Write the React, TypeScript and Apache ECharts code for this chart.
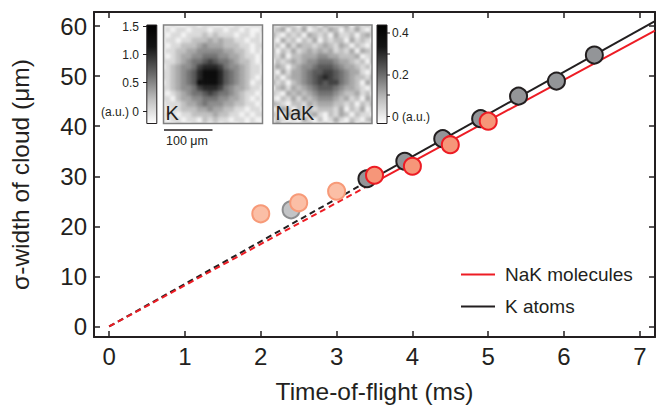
import React, { useEffect, useRef } from "react";
import * as echarts from "echarts";

const INK = "#231f20";
const FONT = "'Liberation Sans', Arial, sans-serif";

const kTimes = [2.4, 3.4, 3.9, 4.4, 4.9, 5.4, 5.9, 6.4];
const kWidths = [23.3, 29.5, 33, 37.5, 41.5, 46, 49, 54.2];
const nakTimes = [2, 2.5, 3, 3.5, 4, 4.5, 5];
const nakWidths = [22.5, 24.7, 27, 30.2, 32, 36.3, 41];
const kFadedCount = 1;
const nakFadedCount = 3;

const kFitDashed = [[0, 0], [3.4, 28.9]];
const kFitSolid = [[3.4, 28.9], [7.2, 61]];
const nakFitDashed = [[0, 0], [3.5, 28.8]];
const nakFitSolid = [[3.5, 28.8], [7.2, 59.1]];

const xTicks = [0, 1, 2, 3, 4, 5, 6, 7];
const yTicks = [0, 10, 20, 30, 40, 50, 60];

const kImage = [
  "10100110110010110110",
  "01011011101101101001",
  "10110111212111011010",
  "01101122232322110110",
  "10112223433322211011",
  "01122334444433221010",
  "10123344555443321101",
  "11123455676554322101",
  "01234457888754432110",
  "11234568999865432110",
  "11234568999865432101",
  "01234569999865432011",
  "11234457888754332110",
  "10123455676554321101",
  "11023344555443321010",
  "01112334544433221101",
  "10112223343322110110",
  "01101122223221101011",
  "10110110212110110100",
  "01011011101011010110",
];
const nakImage = [
  "20131021203112302120",
  "12302130121320213102",
  "31021203212031120231",
  "20312021302122031210",
  "12031322123213202102",
  "30213123232312130321",
  "21302233344332223012",
  "02123234455543321203",
  "13202344566654332120",
  "20313345667765433102",
  "12023345678765432213",
  "31202345676775432031",
  "02313234566654332102",
  "21032323455543223120",
  "10213132344432312031",
  "32102213233322120213",
  "01320212122213021302",
  "21031302310213202110",
  "02101031020131021023",
  "13020102102010130201",
];

const leftBarLabels = [
  { text: "1.5", y: 27 },
  { text: "1.0", y: 55 },
  { text: "0.5", y: 83 },
  { text: "(a.u.) 0", y: 112 },
];
const rightBarLabels = [
  { text: "0.4", y: 33 },
  { text: "0.2", y: 75 },
  { text: "0 (a.u.)", y: 116.5 },
];
const rightBarMinorTicks = [54, 95];

function Inset({ rows, left, top, size }: { rows: string[]; left: number; top: number; size: number }) {
  const ref = useRef<HTMLDivElement>(null);
  useEffect(() => {
    const chart = echarts.init(ref.current!, null, { renderer: "svg" });
    const idx = rows.map((_, i) => i);
    const data: number[][] = [];
    rows.forEach((row, r) => row.split("").forEach((c, col) => data.push([col, rows.length - 1 - r, Number(c)])));
    chart.setOption({
      animation: false,
      grid: { left: 0, right: 0, top: 0, bottom: 0 },
      xAxis: { type: "category", data: idx, show: false },
      yAxis: { type: "category", data: idx, show: false },
      visualMap: { show: false, min: 0, max: 9, inRange: { color: ["#f4f4f4", "#0c0c0c"] } },
      series: [{ type: "heatmap", data, itemStyle: { borderWidth: 0 } }],
    });
    return () => chart.dispose();
  }, []);
  const pad = 4;
  return (
    <div style={{ position: "absolute", left, top, width: size, height: size, overflow: "hidden" }}>
      <div
        ref={ref}
        style={{ position: "absolute", left: -pad, top: -pad, width: size + 2 * pad, height: size + 2 * pad, filter: "blur(1.6px)" }}
      />
    </div>
  );
}

export default function App() {
  const ref = useRef<HTMLDivElement>(null);
  useEffect(() => {
    document.body.style.margin = "0";
    const chart = echarts.init(ref.current!, null, { renderer: "svg" });
    const grayGradient = {
      type: "linear", x: 0, y: 0, x2: 0, y2: 1,
      colorStops: [
        { offset: 0, color: "#000000" },
        { offset: 0.22, color: "#151515" },
        { offset: 0.5, color: "#6a6a6a" },
        { offset: 0.75, color: "#bdbdbd" },
        { offset: 1, color: "#ffffff" },
      ],
    };
    const smallText = (text: string, x: number, y: number, align: string, size = 12) => ({
      type: "text", x, y, z: 20,
      style: { text, fill: INK, font: `${size}px ${FONT}`, textAlign: align, textVerticalAlign: "middle" },
    });
    const tick = (x1: number, x2: number, y: number, w = 1) => ({
      type: "line", z: 20, shape: { x1, y1: y, x2, y2: y }, style: { stroke: INK, lineWidth: w },
    });
    const frame = (x: number, w: number, stroke: string, fill: any, lineWidth: number) => ({
      type: "rect", z: 19, shape: { x, y: 25, width: w, height: 98.5 }, style: { fill, stroke, lineWidth },
    });
    const axisBase = (labels: boolean, values: number[], inside = true) => ({
      type: "value" as const,
      splitLine: { show: false },
      axisLine: { show: true, onZero: false, lineStyle: { color: INK, width: 2 } },
      axisTick: { show: true, inside, length: 6, lineStyle: { color: INK, width: 1.5 }, customValues: values },
      axisLabel: labels
        ? { show: true, color: INK, fontSize: 24, fontFamily: FONT, margin: 7, customValues: values }
        : { show: false, customValues: values },
    });
    const xRange = { min: -0.2, max: 7.2 };
    const yRange = { min: -2.1, max: 62.8 };
    const pts = (xs: number[], ys: number[], faded: number, fadedStyle: any) =>
      xs.map((x, i) => (i < faded ? { value: [x, ys[i]], itemStyle: fadedStyle } : { value: [x, ys[i]] }));
    const lineSeries = (name: string | undefined, data: number[][], color: string, type: string, z: number) => ({
      type: "line", name, data, showSymbol: false, silent: true, z,
      lineStyle: { color, width: 2, type: type === "dashed" ? [6, 4] : "solid" },
      itemStyle: { color },
    });
    chart.setOption({
      animation: false,
      backgroundColor: "transparent",
      grid: { left: 93, right: 12, top: 12, bottom: 70 },
      xAxis: [
        {
          ...axisBase(true, xTicks), ...xRange, position: "bottom",
          name: "Time-of-flight (ms)", nameLocation: "middle", nameGap: 42,
          nameTextStyle: { color: INK, fontSize: 24.5, fontFamily: FONT },
        },
        { ...axisBase(false, xTicks), ...xRange, position: "top" },
      ],
      yAxis: [
        {
          ...axisBase(true, yTicks), ...yRange, position: "left",
          name: "σ-width of cloud (μm)", nameLocation: "middle", nameGap: 61,
          nameTextStyle: { color: INK, fontSize: 24.5, fontFamily: FONT },
        },
        { ...axisBase(false, yTicks), ...yRange, position: "right" },
      ],
      legend: {
        left: 461, top: 265, orient: "vertical", padding: 0, itemWidth: 34, itemHeight: 14, itemGap: 13,
        selectedMode: false, icon: "rect",
        data: [
          { name: "NaK molecules", icon: "path://M0 0H34V2H0Z", itemStyle: { color: "#ed1c24" } },
          { name: "K atoms", icon: "path://M0 0H34V2H0Z", itemStyle: { color: INK } },
        ],
        textStyle: { color: INK, fontSize: 19, fontFamily: FONT, padding: [0, 0, 0, 5] },
      },
      series: [
        lineSeries(undefined, kFitDashed, INK, "dashed", 2),
        lineSeries("K atoms", kFitSolid, INK, "solid", 2),
        lineSeries(undefined, nakFitDashed, "#ed1c24", "dashed", 3),
        lineSeries("NaK molecules", nakFitSolid, "#ed1c24", "solid", 3),
        {
          type: "scatter", symbolSize: 17, z: 4, silent: true,
          data: pts(kTimes, kWidths, kFadedCount, { color: "#c3c4c6", borderColor: "#8d8e90" }),
          itemStyle: { color: "#939598", borderColor: INK, borderWidth: 2, opacity: 1 },
        },
        {
          type: "scatter", symbolSize: 17, z: 5, silent: true,
          data: pts(nakTimes, nakWidths, nakFadedCount, { color: "#fbbfa6", borderColor: "#f79a78" }),
          itemStyle: { color: "#f69679", borderColor: "#ed1c24", borderWidth: 2, opacity: 1 },
        },
      ],
      graphic: {
        elements: [
          frame(146.8, 10, INK, grayGradient, 1),
          frame(377, 10, INK, grayGradient, 1),
          frame(163.5, 99, "#808080", "none", 1.5),
          frame(273, 99, "#808080", "none", 1.5),
          ...leftBarLabels.map((l) => smallText(l.text, 139, l.y, "right")),
          ...leftBarLabels.map((l) => tick(143, 147, l.y - 0.5)),
          ...rightBarLabels.map((l) => smallText(l.text, 392, l.y, "left")),
          ...rightBarLabels.map((l) => tick(387, 390, l.y)),
          ...rightBarMinorTicks.map((y) => tick(387, 390, y)),
          smallText("K", 165.5, 112.5, "left", 20),
          smallText("NaK", 275.5, 112.5, "left", 20),
          tick(164, 212.5, 130, 1.5),
          smallText("100 μm", 166, 141, "left", 12.5),
        ],
      },
    });
    return () => chart.dispose();
  }, []);
  return (
    <div style={{ position: "absolute", left: 0, top: 0, width: 667, height: 409, background: "#fff", overflow: "hidden" }}>
      <Inset rows={kImage} left={164} top={25.5} size={98} />
      <Inset rows={nakImage} left={273.5} top={25.5} size={98} />
      <div ref={ref} style={{ position: "absolute", left: 0, top: 0, width: 667, height: 409 }} />
    </div>
  );
}
